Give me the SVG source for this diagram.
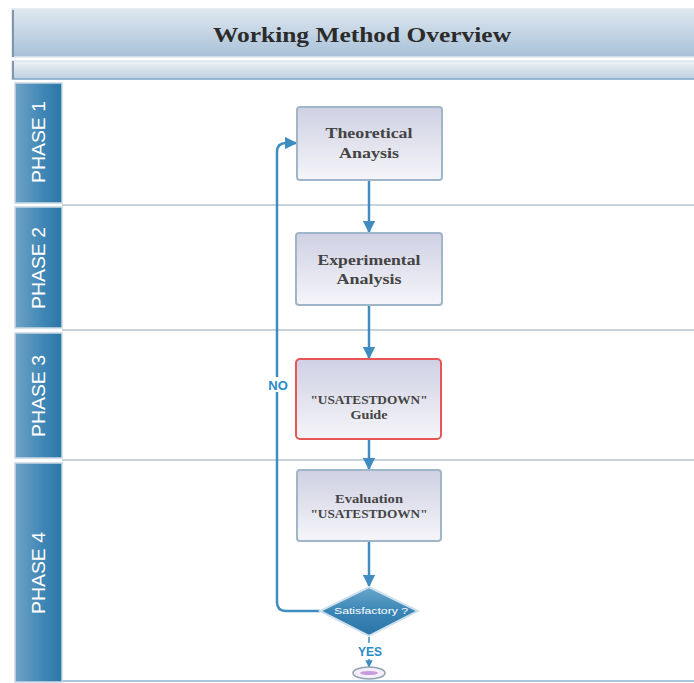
<svg xmlns="http://www.w3.org/2000/svg" width="694" height="683" viewBox="0 0 694 683">
<defs>
<linearGradient id="gTitle" x1="0" y1="0" x2="0" y2="1">
<stop offset="0" stop-color="#dfe7ef"/>
<stop offset="0.5" stop-color="#c4d4e3"/>
<stop offset="1" stop-color="#a7c1d9"/>
</linearGradient>
<linearGradient id="gBar" x1="0" y1="0" x2="0" y2="1">
<stop offset="0" stop-color="#eef2f6"/>
<stop offset="1" stop-color="#bccfe0"/>
</linearGradient>
<linearGradient id="gTab" x1="0" y1="0" x2="1" y2="0">
<stop offset="0" stop-color="#6fa3c6"/>
<stop offset="0.6" stop-color="#3f86b5"/>
<stop offset="1" stop-color="#2b77a7"/>
</linearGradient>
<linearGradient id="gBox" x1="0" y1="0" x2="0" y2="1">
<stop offset="0" stop-color="#cfd0e3"/>
<stop offset="1" stop-color="#f5f5f9"/>
</linearGradient>
<linearGradient id="gDia" x1="0" y1="0" x2="0" y2="1">
<stop offset="0" stop-color="#6aa6cc"/>
<stop offset="0.5" stop-color="#3a86b6"/>
<stop offset="1" stop-color="#2a74a6"/>
</linearGradient>
<marker id="arr" viewBox="0 0 10 10" refX="9" refY="5" markerWidth="5" markerHeight="5" orient="auto" markerUnits="strokeWidth">
<path d="M0,0 L10,5 L0,10 z" fill="#3f8dc0"/>
</marker>
</defs>
<style>
.tab{fill:url(#gTab);stroke:#c9d8e4;stroke-width:1.5}
.tabt{font-family:"Liberation Sans",Arial,sans-serif;font-size:19px;fill:#ffffff;text-anchor:middle}
.lane{stroke:#c6d2dc;stroke-width:2}
.box{fill:url(#gBox);stroke:#9fb6c8;stroke-width:2}
.bt{font-family:"Liberation Serif","Times New Roman",serif;font-weight:bold;fill:#444444;text-anchor:middle}
.conn{fill:none;stroke:#3f8dc0;stroke-width:2.5}
.lbl{font-family:"Liberation Sans",Arial,sans-serif;font-weight:bold;fill:#2a8cc8;text-anchor:middle}
</style>
<rect width="694" height="683" fill="#ffffff"/>

<g id="title">
<rect x="12" y="9" width="690" height="48" fill="url(#gTitle)" stroke="#dfe6ec" stroke-width="1.5"/>
<line x1="13" y1="10" x2="13" y2="57" stroke="#7e97ab" stroke-width="2"/>
<text x="362" y="42" font-family="'Liberation Serif','Times New Roman',serif" font-weight="bold" font-size="21" fill="#2b2b2b" text-anchor="middle" textLength="298" lengthAdjust="spacingAndGlyphs">Working Method Overview</text>
</g>
<g id="subbar">
<rect x="12" y="61" width="690" height="18" fill="url(#gBar)" stroke="#dde5ec" stroke-width="1.5"/>
<line x1="12" y1="79" x2="694" y2="79" stroke="#7fa9c8" stroke-width="1.5"/>
<line x1="13" y1="61" x2="13" y2="79" stroke="#7e97ab" stroke-width="2"/>
</g>

<g id="lanes">
<line class="lane" x1="62" y1="205" x2="694" y2="205"/>
<line class="lane" x1="62" y1="330" x2="694" y2="330"/>
<line class="lane" x1="62" y1="460" x2="694" y2="460"/>
<line x1="62" y1="681" x2="694" y2="681" stroke="#a9c6db" stroke-width="2"/>
</g>

<g id="phase1"><rect class="tab" x="15" y="83" width="47" height="120"/><text class="tabt" transform="translate(45,142) rotate(-90)" textLength="82" lengthAdjust="spacingAndGlyphs">PHASE 1</text></g>
<g id="phase2"><rect class="tab" x="15" y="207" width="47" height="121"/><text class="tabt" transform="translate(45,268) rotate(-90)" textLength="82" lengthAdjust="spacingAndGlyphs">PHASE 2</text></g>
<g id="phase3"><rect class="tab" x="15" y="333" width="47" height="125"/><text class="tabt" transform="translate(45,396) rotate(-90)" textLength="82" lengthAdjust="spacingAndGlyphs">PHASE 3</text></g>
<g id="phase4"><rect class="tab" x="15" y="463" width="47" height="219"/><text class="tabt" transform="translate(45,573) rotate(-90)" textLength="82" lengthAdjust="spacingAndGlyphs">PHASE 4</text></g>

<g id="connectors">
<line class="conn" x1="369" y1="180" x2="369" y2="232" marker-end="url(#arr)"/>
<line class="conn" x1="369" y1="306" x2="369" y2="358" marker-end="url(#arr)"/>
<line class="conn" x1="369" y1="440" x2="369" y2="469" marker-end="url(#arr)"/>
<line class="conn" x1="369" y1="542" x2="369" y2="586" marker-end="url(#arr)"/>
<path class="conn" d="M320,611 H286 Q277,611 277,602 V152 Q277,143 286,143 H296" marker-end="url(#arr)"/>
<line x1="369" y1="637" x2="369" y2="643" stroke="#3f8dc0" stroke-width="1.5"/>
<line x1="369" y1="659" x2="369" y2="667" stroke="#3f8dc0" stroke-width="1.5" marker-end="url(#arr)"/>
<rect x="264" y="377" width="27" height="15" fill="#ffffff"/>
<text class="lbl" x="278" y="390" font-size="13">NO</text>
<text class="lbl" x="370" y="656" font-size="12">YES</text>
</g>

<g id="theoretical">
<rect class="box" x="297" y="107" width="145" height="73" rx="3"/>
<text class="bt" x="369" y="138" font-size="15" textLength="87" lengthAdjust="spacingAndGlyphs">Theoretical</text>
<text class="bt" x="369" y="158" font-size="15" textLength="60" lengthAdjust="spacingAndGlyphs">Anaysis</text>
</g>
<g id="experimental">
<rect class="box" x="296" y="233" width="146" height="72" rx="3"/>
<text class="bt" x="369" y="265" font-size="15" textLength="103" lengthAdjust="spacingAndGlyphs">Experimental</text>
<text class="bt" x="369" y="284" font-size="15" textLength="65" lengthAdjust="spacingAndGlyphs">Analysis</text>
</g>
<g id="guide">
<rect x="296" y="359" width="145" height="80" rx="4" fill="url(#gBox)" stroke="#e85555" stroke-width="2"/>
<text class="bt" x="369" y="404" font-size="12.5" textLength="117" lengthAdjust="spacingAndGlyphs">"USATESTDOWN"</text>
<text class="bt" x="369" y="419" font-size="12.5" textLength="37" lengthAdjust="spacingAndGlyphs">Guide</text>
</g>
<g id="evaluation">
<rect class="box" x="297" y="470" width="144" height="71" rx="3"/>
<text class="bt" x="369" y="503" font-size="13" textLength="68" lengthAdjust="spacingAndGlyphs">Evaluation</text>
<text class="bt" x="369" y="518" font-size="12.5" textLength="117" lengthAdjust="spacingAndGlyphs">"USATESTDOWN"</text>
</g>
<g id="decision">
<polygon points="369,587 418,611 369,636 320,611" fill="url(#gDia)" stroke="#cfe0ec" stroke-width="2"/>
<text x="371" y="614" font-family="'Liberation Sans',Arial,sans-serif" font-size="9" fill="#ffffff" text-anchor="middle" textLength="74" lengthAdjust="spacingAndGlyphs">Satisfactory ?</text>
</g>
<g id="end">
<ellipse cx="369" cy="673" rx="16" ry="6" fill="#f4eef8" stroke="#8ea3b3" stroke-width="1.5"/>
<ellipse cx="369" cy="673" rx="9" ry="2" fill="#c79be0"/>
</g>
</svg>
